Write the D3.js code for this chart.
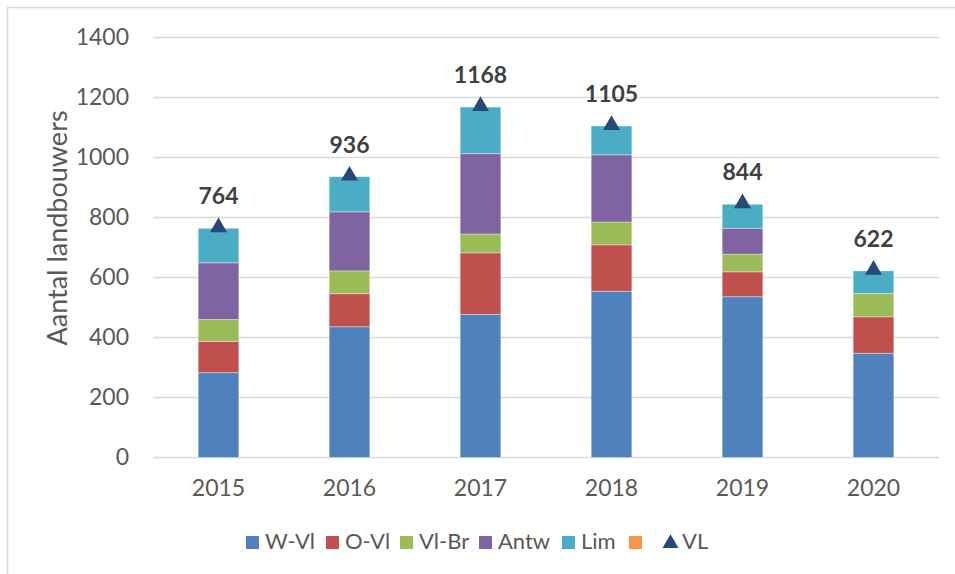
<!DOCTYPE html>
<html>
<head>
<meta charset="utf-8">
<script src="https://cdn.jsdelivr.net/npm/d3@7"></script>
<style>
  body { margin: 0; background: #fff; }
  svg { display: block; font-family: Lato, "Open Sans", sans-serif; }
</style>
</head>
<body>
<svg id="chart" width="955" height="574"></svg>
<script>
// data
const years = ["2015", "2016", "2017", "2018", "2019", "2020"];
const wVl = [283, 436, 477, 554, 536, 347];
const oVl = [104, 110, 205, 155, 83, 122];
const vlBr = [73, 76, 63, 76, 59, 78];
const antw = [189, 197, 268, 224, 86, 0];
const lim = [115, 117, 155, 96, 80, 75];
const other = [0, 0, 0, 0, 0, 0];        // orange series, empty
const vlTotal = [764, 936, 1168, 1105, 844, 622];
const yTicks = [0, 200, 400, 600, 800, 1000, 1200, 1400];

const seriesNames = ["W-Vl", "O-Vl", "Vl-Br", "Antw", "Lim", ""];
const seriesVals = [wVl, oVl, vlBr, antw, lim, other];
const colors = ["#4f81bd", "#c0504d", "#9bbb59", "#8064a2", "#4bacc6", "#f79646"];
const triColor = "#264a78";

// build table for d3.stack
const table = years.map(function (y, i) {
    const row = { year: y };
    seriesVals.forEach(function (s, k) { row["s" + k] = s[i]; });
    return row;
});

const svg = d3.select("#chart");

// chart border (only top and left visible in the crop)
svg.append("path")
    .attr("d", "M7.5,574V7.5H955")
    .attr("fill", "none")
    .attr("stroke", "#d9d9d9")
    .attr("stroke-width", 1.5);

const plotLeft = 153, plotRight = 939, plotTop = 37.5, plotBottom = 457.5;

const x = d3.scaleBand()
    .domain(years)
    .range([plotLeft, plotRight])
    .paddingInner(0.69)
    .paddingOuter(0.345);

const y = d3.scaleLinear()
    .domain([0, 1400])
    .range([plotBottom, plotTop]);

// gridlines
svg.append("g")
    .selectAll("line")
    .data(yTicks)
    .enter().append("line")
    .attr("x1", plotLeft)
    .attr("x2", plotRight)
    .attr("y1", function (d) { return y(d); })
    .attr("y2", function (d) { return y(d); })
    .attr("stroke", "#d9d9d9")
    .attr("stroke-width", 1.5);

// y axis labels
const yAxis = svg.append("g")
    .attr("transform", "translate(" + (plotLeft - 24) + ",0)")
    .call(d3.axisLeft(y).tickValues(yTicks).tickFormat(d3.format("d")).tickSize(0).tickPadding(0));
yAxis.select(".domain").remove();
yAxis.selectAll("text")
    .attr("font-size", 23)
    .attr("font-family", "Lato, sans-serif")
    .attr("fill", "#595959");

// x axis labels
const xAxis = svg.append("g")
    .attr("transform", "translate(0," + plotBottom + ")")
    .call(d3.axisBottom(x).tickSize(0).tickPadding(22));
xAxis.select(".domain").remove();
xAxis.selectAll("text")
    .attr("font-size", 23)
    .attr("font-family", "Lato, sans-serif")
    .attr("fill", "#595959");

// y axis title
svg.append("text")
    .attr("transform", "translate(67,228) rotate(-90)")
    .attr("text-anchor", "middle")
    .attr("font-size", 27)
    .attr("fill", "#595959")
    .text("Aantal landbouwers");

// stacked bars
const keys = seriesNames.map(function (d, k) { return "s" + k; });
const stacked = d3.stack().keys(keys)(table);

svg.append("g")
    .selectAll("g")
    .data(stacked)
    .enter().append("g")
    .attr("fill", function (d, k) { return colors[k]; })
    .selectAll("rect")
    .data(function (d) { return d.filter(function (p) { return p[1] - p[0] > 0; }); })
    .enter().append("rect")
    .attr("x", function (d) { return x(d.data.year); })
    .attr("y", function (d) { return y(d[1]); })
    .attr("width", x.bandwidth())
    .attr("height", function (d) { return y(d[0]) - y(d[1]); })
    .attr("stroke", "#ffffff")
    .attr("stroke-opacity", 0.35)
    .attr("stroke-width", 1);

// VL triangles
const tri = d3.symbol().type(d3.symbolTriangle).size(125);
svg.append("g")
    .selectAll("path")
    .data(vlTotal)
    .enter().append("path")
    .attr("d", tri)
    .attr("transform", function (d, i) {
        return "translate(" + (x(years[i]) + x.bandwidth() / 2) + "," + (y(d) - 1) + ")";
    })
    .attr("fill", triColor);

// VL labels
svg.append("g")
    .selectAll("text")
    .data(vlTotal)
    .enter().append("text")
    .attr("x", function (d, i) { return x(years[i]) + x.bandwidth() / 2; })
    .attr("y", function (d) { return y(d) - 24; })
    .attr("text-anchor", "middle")
    .attr("font-size", 23)
    .attr("font-weight", "bold")
    .attr("fill", "#404040")
    .text(function (d) { return d; });

// legend (marker x positions taken from the reference layout)
const legendX = [246, 326, 400, 479, 562, 629, 663];
const legendItems = seriesNames.map(function (n, k) {
    return { name: n, color: colors[k], type: "rect" };
});
legendItems.push({ name: "VL", color: triColor, type: "tri" });

const legend = svg.append("g").attr("transform", "translate(0,549)");
legendItems.forEach(function (it, i) {
    const g = legend.append("g").attr("transform", "translate(" + legendX[i] + ",0)");
    if (it.type === "rect") {
        g.append("rect")
            .attr("x", 0).attr("y", -13)
            .attr("width", 13).attr("height", 13)
            .attr("fill", it.color);
    } else {
        g.append("path")
            .attr("d", d3.symbol().type(d3.symbolTriangle).size(110)())
            .attr("transform", "translate(7.5,-5.5)")
            .attr("fill", it.color);
    }
    g.append("text")
        .attr("x", 19)
        .attr("y", 0)
        .attr("font-size", 22)
        .attr("fill", "#595959")
        .text(it.name);
});
</script>
</body>
</html>
